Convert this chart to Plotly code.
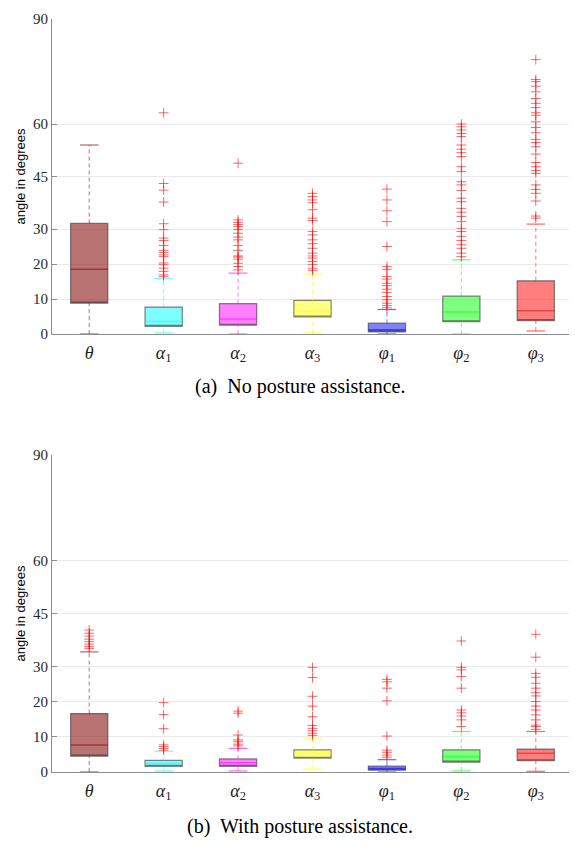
import plotly.graph_objects as go

categories = ["θ", "α1", "α2", "α3", "φ1", "φ2", "φ3"]
tick_labels = ["<i>θ</i>", "<i>α</i><sub>1</sub>", "<i>α</i><sub>2</sub>", "<i>α</i><sub>3</sub>",
               "<i>φ</i><sub>1</sub>", "<i>φ</i><sub>2</sub>", "<i>φ</i><sub>3</sub>"]
base_colors = [(128, 0, 0), (0, 255, 255), (255, 0, 255), (255, 255, 0),
               (0, 0, 255), (0, 255, 0), (255, 0, 0)]

# Panel (a): No posture assistance
a_q1 = [8.8, 2.2, 2.5, 4.85, 0.6, 3.5, 3.8]
a_med = [18.5, 3.6, 4.3, 6.5, 1.2, 6.3, 6.65]
a_q3 = [31.6, 7.7, 8.65, 9.6, 3.1, 10.8, 15.2]
a_lo = [0.0, 0.3, 0.0, 0.3, 0.0, 0.0, 0.86]
a_hi = [54.0, 15.9, 17.4, 17.1, 7.0, 21.2, 31.4]
a_out = [
    [],
    [63.2, 43.0, 41.1, 37.7, 31.5, 29.8, 27.4, 26.7, 25.3, 23.9, 23.3, 22.6, 22.1, 20.3, 19.8, 18.8, 17.9, 16.9, 16.4],
    [48.8, 32.6, 31.9, 31.3, 30.7, 29.9, 28.8, 27.7, 26.9, 25.3, 23.9, 22.3, 22.0, 21.4, 20.2, 19.3, 18.3],
    [40.2, 39.3, 38.3, 37.5, 35.5, 33.1, 32.4, 29.3, 28.3, 26.9, 25.8, 24.5, 23.1, 22.3, 21.7, 20.7, 19.8, 18.8, 18.2],
    [41.4, 38.3, 35.2, 32.1, 25.0, 19.3, 18.5, 16.4, 15.7, 14.5, 13.8, 12.8, 11.9, 10.7, 9.8, 8.8, 8.1, 7.5],
    [60.0, 59.2, 58.3, 57.3, 56.4, 54.0, 52.8, 51.8, 50.7, 47.8, 46.4, 43.5, 42.6, 41.0, 38.8, 37.8, 35.9, 34.8,
     33.6, 32.1, 30.2, 29.3, 27.9, 26.7, 25.5, 24.5, 23.1, 22.1],
    [78.4, 72.7, 72.1, 70.8, 69.2, 67.3, 65.9, 64.7, 63.2, 62.5, 60.6, 59.0, 57.5, 55.6, 54.7, 53.5, 51.4, 49.0,
     47.8, 46.7, 45.9, 42.6, 41.3, 40.2, 38.0, 33.7, 33.1],
]

# Panel (b): With posture assistance
b_q1 = [4.5, 1.6, 1.6, 3.9, 0.5, 2.8, 3.2]
b_med = [7.7, 2.5, 2.6, 5.3, 1.0, 4.4, 5.3]
b_q3 = [16.6, 3.3, 3.7, 6.3, 1.7, 6.3, 6.5]
b_lo = [0.0, 0.3, 0.3, 0.85, 0.0, 0.3, 0.2]
b_hi = [34.1, 5.9, 6.7, 9.6, 3.5, 11.5, 11.5]
b_out = [
    [40.3, 39.4, 38.6, 37.7, 37.0, 36.3, 35.6, 35.1],
    [19.7, 16.3, 12.3, 7.7, 7.2, 6.7, 6.2],
    [17.3, 16.7, 10.5, 9.1, 8.6, 7.9, 7.4],
    [29.7, 26.8, 21.5, 18.7, 15.7, 13.2, 12.4, 11.7, 11.0, 10.4],
    [26.3, 25.6, 23.8, 20.2, 10.2, 6.2, 5.6, 4.8, 4.2],
    [37.2, 29.7, 29.0, 27.1, 23.8, 17.6, 16.8, 15.9, 14.8, 12.9],
    [39.1, 32.6, 28.0, 26.9, 25.2, 23.8, 22.5, 21.6, 20.0, 18.7, 17.6, 16.2, 14.8, 13.3, 12.9, 12.1],
]

y_ticks = [0, 10, 20, 30, 45, 60, 90]

panels = [
    (a_q1, a_med, a_q3, a_lo, a_hi, a_out, "x", "y"),
    (b_q1, b_med, b_q3, b_lo, b_hi, b_out, "x2", "y2"),
]

BOX_HALF = 0.25
CAP_HALF = 0.125


def rgba(c, a):
    return f"rgba({c[0]},{c[1]},{c[2]},{a})"


fig = go.Figure()
for q1, med, q3, lo, hi, out, xa, ya in panels:
    for i, cat in enumerate(categories):
        pos = i + 1
        c = base_colors[i]
        fill_alpha = 0.55 if i == 0 else 0.5
        # whiskers (dashed)
        fig.add_trace(go.Scatter(
            x=[pos, pos, None, pos, pos], y=[q3[i], hi[i], None, lo[i], q1[i]],
            mode="lines", line=dict(color=rgba(c, 0.45), width=1.2, dash="4px,3px"),
            xaxis=xa, yaxis=ya, showlegend=False, hoverinfo="skip"))
        # caps
        fig.add_trace(go.Scatter(
            x=[pos - CAP_HALF, pos + CAP_HALF, None, pos - CAP_HALF, pos + CAP_HALF],
            y=[hi[i], hi[i], None, lo[i], lo[i]],
            mode="lines", line=dict(color=rgba(c, 0.6), width=1.2),
            xaxis=xa, yaxis=ya, showlegend=False, hoverinfo="skip"))
        # box body (median drawn separately in the box colour)
        fig.add_trace(go.Box(
            x=[pos], q1=[q1[i]], median=[q1[i]], q3=[q3[i]],
            lowerfence=[q1[i]], upperfence=[q3[i]],
            width=2 * BOX_HALF, fillcolor=rgba(c, fill_alpha),
            line=dict(color="rgba(50,50,50,0.6)", width=1.2),
            whiskerwidth=0, boxpoints=False,
            xaxis=xa, yaxis=ya, showlegend=False, name=cat))
        # median line in box colour
        fig.add_trace(go.Scatter(
            x=[pos - BOX_HALF, pos + BOX_HALF], y=[med[i], med[i]],
            mode="lines", line=dict(color=rgba(c, 0.5), width=1.5),
            xaxis=xa, yaxis=ya, showlegend=False, hoverinfo="skip"))
    # outliers
    ox, oy = [], []
    for i, vals in enumerate(out):
        ox += [i + 1] * len(vals)
        oy += vals
    fig.add_trace(go.Scatter(
        x=ox, y=oy, mode="markers",
        marker=dict(symbol="cross-thin", size=7, line=dict(color="rgba(255,0,0,0.6)", width=1)),
        xaxis=xa, yaxis=ya, showlegend=False, hoverinfo="skip"))

# Plot geometry (screen px; the page body adds an 8px offset)
OFF = 8
SCREEN_W, SCREEN_H = 577, 850
W, H = SCREEN_W - OFF, SCREEN_H - OFF
left_px, right_px = 52, 573
top_px, bot_px = 19, 772
ph = bot_px - top_px
pw = right_px - left_px


def frac(px):
    return (bot_px - px) / ph


axis_common_x = dict(range=[0.5, 7.5], tickmode="array", tickvals=list(range(1, 8)), ticktext=tick_labels,
                     showgrid=False, zeroline=False, showline=True, linecolor="rgb(140,140,140)", linewidth=1,
                     ticks="", tickfont=dict(family="Liberation Serif", size=18, color="rgb(30,30,30)"),
                     ticklabelstandoff=2, automargin=False)
axis_common_y = dict(range=[0, 90], tickmode="array", tickvals=y_ticks, ticktext=[str(v) for v in y_ticks],
                     showgrid=True, gridcolor="rgb(234,234,234)", gridwidth=1, zeroline=False,
                     showline=True, linecolor="rgb(140,140,140)", linewidth=1,
                     ticks="inside", ticklen=5, tickcolor="rgb(140,140,140)",
                     tickfont=dict(family="Liberation Serif", size=15, color="rgb(40,40,40)"),
                     automargin=False,
                     title=dict(text="angle in degrees", font=dict(family="Liberation Sans", size=13, color="black"),
                                standoff=4))

fig.update_layout(
    width=W, height=H,
    margin=dict(l=left_px - OFF, r=SCREEN_W - right_px, t=top_px - OFF, b=SCREEN_H - bot_px),
    plot_bgcolor="white", paper_bgcolor="white",
    boxmode="overlay",
    xaxis=dict(domain=[0, 1], anchor="y", **axis_common_x),
    yaxis=dict(domain=[frac(334), 1.0], anchor="x", **axis_common_y),
    xaxis2=dict(domain=[0, 1], anchor="y2", **axis_common_x),
    yaxis2=dict(domain=[0, frac(455)], anchor="x2", **axis_common_y),
    annotations=[
        dict(text="(a)  No posture assistance.", xref="paper", yref="paper",
             x=(300 - left_px) / pw, y=frac(386), xanchor="center", yanchor="middle", showarrow=False,
             font=dict(family="Liberation Serif", size=20, color="black")),
        dict(text="(b)  With posture assistance.", xref="paper", yref="paper",
             x=(300 - left_px) / pw, y=frac(826), xanchor="center", yanchor="middle", showarrow=False,
             font=dict(family="Liberation Serif", size=20, color="black")),
    ],
)

fig.write_html("out.html")
